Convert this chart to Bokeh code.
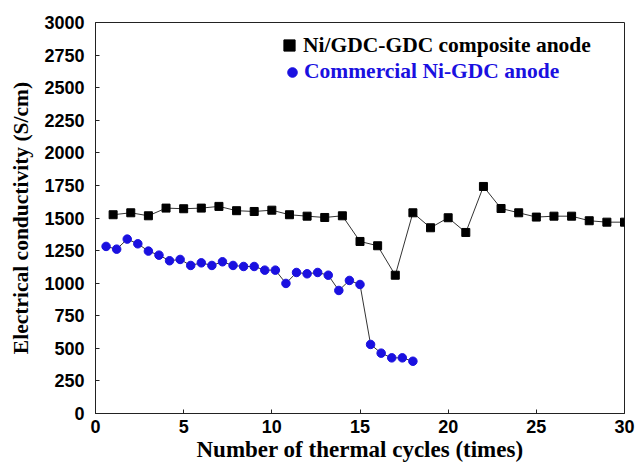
from bokeh.plotting import figure
from bokeh.models import Legend, LegendItem, Range1d, FixedTicker
from bokeh.embed import file_html
from bokeh.resources import INLINE

# Ni/GDC-GDC composite anode
comp_x = list(range(1, 31))
comp_y = [1525, 1540, 1517, 1576, 1571, 1576, 1589, 1556, 1550, 1560,
          1525, 1514, 1504, 1517, 1320, 1287, 1061, 1540, 1425, 1502,
          1389, 1742, 1573, 1540, 1507, 1514, 1514, 1479, 1468, 1468]

# Commercial Ni-GDC anode
comm_x = [0.6, 1.2, 1.8, 2.4, 3.0, 3.6, 4.2, 4.8, 5.4, 6.0,
          6.6, 7.2, 7.8, 8.4, 9.0, 9.6, 10.2, 10.8, 11.4, 12.0,
          12.6, 13.2, 13.8, 14.4, 15.0, 15.6, 16.2, 16.8, 17.4, 18.0]
comm_y = [1282, 1261, 1338, 1302, 1246, 1215, 1172, 1182, 1136, 1156,
          1136, 1164, 1136, 1128, 1128, 1100, 1100, 998, 1082, 1072,
          1082, 1061, 944, 1021, 990, 530, 463, 427, 427, 401]

x_ticks = [0, 5, 10, 15, 20, 25, 30]
y_ticks = [0, 250, 500, 750, 1000, 1250, 1500, 1750, 2000, 2250, 2500, 2750, 3000]

label_comp = "Ni/GDC-GDC composite anode"
label_comm = "Commercial Ni-GDC anode"
x_title = "Number of thermal cycles (times)"
y_title = "Electrical conductivity (S/cm)"

p = figure(width=635, height=466, output_backend="svg", toolbar_location=None,
           x_range=Range1d(0, 30), y_range=Range1d(0, 3000))
p.min_border_left = 95
p.min_border_right = 11
p.min_border_top = 22
p.min_border_bottom = 53
p.background_fill_color = "white"
p.border_fill_color = "white"
p.outline_line_color = "#222222"
p.outline_line_width = 1
p.xgrid.visible = False
p.ygrid.visible = False

p.line(comp_x, comp_y, line_color="#333333", line_width=1)
p.line(comm_x, comm_y, line_color="#333333", line_width=1)
r1 = p.scatter(comp_x, comp_y, marker="square", size=8, fill_color="black", line_color="black")
r2 = p.scatter(comm_x, comm_y, marker="circle", size=8.5, fill_color="#1a10e0", line_color="#1a10e0")

for ax in (p.xaxis[0], p.yaxis[0]):
    ax.axis_line_color = "#222222"
    ax.major_tick_line_color = "#222222"
    ax.major_tick_in = 4
    ax.major_tick_out = 0
    ax.minor_tick_in = 0
    ax.minor_tick_out = 0
    ax.major_label_text_font = "Liberation Sans"
    ax.major_label_text_font_style = "bold"
    ax.major_label_text_font_size = "18px"
    ax.major_label_text_color = "black"
    ax.axis_label_text_font = "Liberation Serif"
    ax.axis_label_text_font_style = "bold"
    ax.axis_label_text_color = "black"

p.xaxis[0].ticker = FixedTicker(ticks=x_ticks)
p.yaxis[0].ticker = FixedTicker(ticks=y_ticks)
p.xaxis[0].axis_label = x_title
p.yaxis[0].axis_label = y_title
p.xaxis[0].axis_label_text_font_size = "23px"
p.yaxis[0].axis_label_text_font_size = "21.5px"
p.xaxis[0].major_label_standoff = 6
p.yaxis[0].major_label_standoff = 11
p.xaxis[0].axis_label_standoff = 1
p.yaxis[0].axis_label_standoff = 8

def make_legend(item, color, loc, gsize):
    lg = Legend(items=[item], location=loc, orientation="vertical")
    lg.background_fill_alpha = 0
    lg.border_line_alpha = 0
    lg.padding = 0
    lg.margin = 0
    lg.spacing = 0
    lg.glyph_width = gsize
    lg.glyph_height = gsize
    lg.label_standoff = 0
    lg.label_text_font = "Liberation Serif"
    lg.label_text_font_style = "bold"
    lg.label_text_font_size = "21.5px"
    lg.label_text_color = color
    lg.label_height = 20
    return lg

p.add_layout(make_legend(LegendItem(label=label_comp, renderers=[r1]), "black", (180, 354), 28))
p.add_layout(make_legend(LegendItem(label=label_comm, renderers=[r2]), "#1a10e0", (185, 329), 24))

open("out.html", "w").write(file_html(p, INLINE))
